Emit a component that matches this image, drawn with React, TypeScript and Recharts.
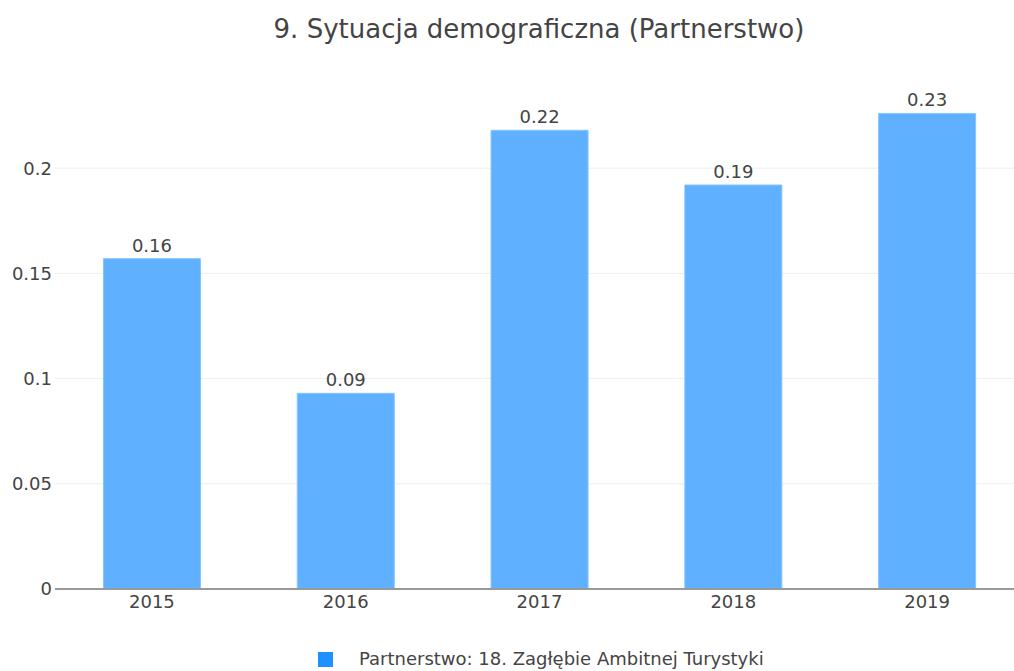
import { BarChart, Bar, XAxis, YAxis, CartesianGrid, Legend, LabelList } from 'recharts';

const years = ['2015', '2016', '2017', '2018', '2019'];
const values = [0.157, 0.093, 0.218, 0.192, 0.226];
const yTicks = [0, 0.05, 0.1, 0.15, 0.2];
const seriesName = 'Partnerstwo: 18. Zagłębie Ambitnej Turystyki';
const title = '9. Sytuacja demograficzna (Partnerstwo)';

const data = years.map((year, i) => ({ year, value: values[i] }));

const FONT = '"DejaVu Sans", Verdana, sans-serif';
const TEXT = '#444';

function LegendBox() {
  return (
    <div style={{ position: 'relative', height: 52, fontFamily: FONT }}>
      <div style={{ position: 'absolute', left: 318, top: 33, width: 15, height: 15, background: '#1e90ff' }} />
      <span style={{ position: 'absolute', left: 359, top: 30, fontSize: 18, lineHeight: '20px', color: TEXT, whiteSpace: 'nowrap' }}>
        {seriesName}
      </span>
    </div>
  );
}

export default function App() {
  return (
    <div style={{ position: 'fixed', left: 0, top: 0, width: 1014, height: 671, overflow: 'hidden', background: '#fff' }}>
      <div
        style={{
          position: 'absolute',
          left: 0,
          width: 1078,
          top: 14,
          textAlign: 'center',
          fontFamily: FONT,
          fontSize: 26,
          lineHeight: '30px',
          color: TEXT,
        }}
      >
        {title}
      </div>
      <BarChart
        width={1024}
        height={671}
        data={data}
        margin={{ top: 84, right: 0, left: 0, bottom: 0 }}
        barCategoryGap="25%"
      >
        <CartesianGrid vertical={false} stroke="#eee" horizontalValues={yTicks} />
        <YAxis
          width={55}
          domain={[0, 0.24]}
          ticks={yTicks}
          axisLine={false}
          tickLine={false}
          tickSize={0}
          tickMargin={3}
          tick={{ fill: TEXT, fontSize: 18, fontFamily: FONT }}
        />
        <XAxis
          dataKey="year"
          height={30}
          axisLine={{ stroke: '#999', strokeWidth: 2 }}
          tickLine={false}
          tickSize={0}
          tickMargin={6}
          tick={{ fill: TEXT, fontSize: 18, fontFamily: FONT }}
        />
        <Legend
          verticalAlign="bottom"
          content={() => <LegendBox />}
          wrapperStyle={{ left: 0, bottom: 0, width: 1024, height: 52 }}
        />
        <Bar dataKey="value" name={seriesName} fill="#5fb0ff" stroke="#86c3ff" strokeWidth={1} isAnimationActive={false}>
          <LabelList
            dataKey="value"
            position="top"
            offset={7}
            formatter={(v: number) => v.toFixed(2)}
            style={{ fill: TEXT, fontSize: 18, fontFamily: FONT }}
          />
        </Bar>
      </BarChart>
    </div>
  );
}
